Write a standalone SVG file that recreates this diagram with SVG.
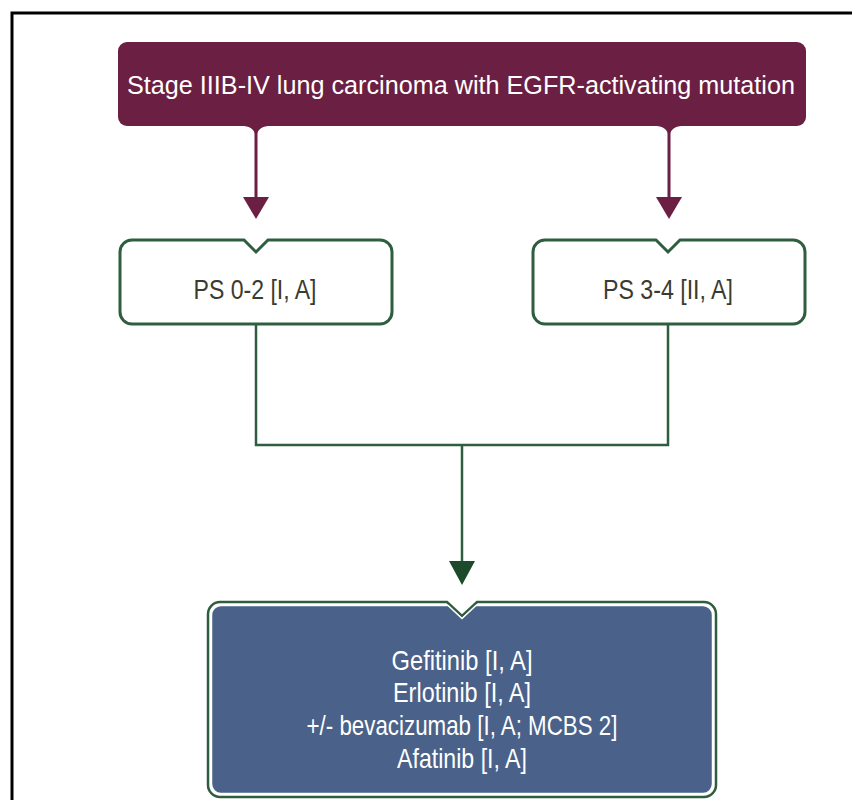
<svg xmlns="http://www.w3.org/2000/svg" width="852" height="800" viewBox="0 0 852 800">
  <style>
    .t { font-family: "Liberation Sans Narrow", "Liberation Sans", Arial, sans-serif; font-size: 28px; text-anchor: middle; }
    .h { font-size: 26px; }
    .w { fill: #ffffff; }
    .d { fill: #3b3b30; }
    .ps { fill: #ffffff; stroke: #2e5e3f; stroke-width: 3; }
    .mline { stroke: #6b1f42; stroke-width: 3; fill: none; }
    .gline { stroke: #2e5e3f; stroke-width: 2.5; fill: none; }
  </style>
  <defs>
    <marker id="am" markerUnits="userSpaceOnUse" markerWidth="22" markerHeight="26" viewBox="0 0 22 26" refX="0" refY="13" orient="auto">
      <path d="M0,0 L22,13 L0,26 Z" fill="#6b1f42"/>
    </marker>
    <marker id="ag" markerUnits="userSpaceOnUse" markerWidth="24" markerHeight="26" viewBox="0 0 24 26" refX="0" refY="13" orient="auto">
      <path d="M0,0 L24,13 L0,26 Z" fill="#1d4a2b"/>
    </marker>
  </defs>
  <rect width="852" height="800" fill="#ffffff"/>
  <g id="frame" fill="none" stroke="#000" stroke-width="3">
    <path d="M12,800 V13 H852"/>
  </g>

  <g id="connectors">
    <path d="M244,126 Q256,127 256,140 Q256,127 268,126 Z" fill="#6b1f42"/>
    <path d="M657,126 Q669,127 669,140 Q669,127 681,126 Z" fill="#6b1f42"/>
    <line class="mline" x1="256" y1="126" x2="256" y2="197" marker-end="url(#am)"/>
    <line class="mline" x1="669" y1="126" x2="669" y2="197" marker-end="url(#am)"/>
    <path class="gline" d="M256,324 V445 H668 V324"/>
    <line class="gline" x1="462" y1="445" x2="462" y2="561" marker-end="url(#ag)"/>
  </g>

  <g id="stage">
    <rect x="118" y="42" width="688" height="84" rx="9" fill="#6b1f42"/>
    <text class="t h w" x="461" y="94" textLength="668" lengthAdjust="spacingAndGlyphs">Stage IIIB-IV lung carcinoma with EGFR-activating mutation</text>
  </g>

  <g id="ps02">
    <path class="ps" d="M132,240 H244 L256,252 L268,240 H380 A12,12 0 0 1 392,252 V312 A12,12 0 0 1 380,324 H132 A12,12 0 0 1 120,312 V252 A12,12 0 0 1 132,240 Z"/>
    <text class="t d" x="255" y="299" textLength="123" lengthAdjust="spacingAndGlyphs">PS 0-2 [I, A]</text>
  </g>

  <g id="ps34">
    <path class="ps" d="M545,240 H656 L668,252 L680,240 H793 A12,12 0 0 1 805,252 V312 A12,12 0 0 1 793,324 H545 A12,12 0 0 1 533,312 V252 A12,12 0 0 1 545,240 Z"/>
    <text class="t d" x="668" y="299" textLength="130" lengthAdjust="spacingAndGlyphs">PS 3-4 [II, A]</text>
  </g>

  <g id="treatment">
    <path d="M220,602 H447 L462,616 L477,602 H704 A12,12 0 0 1 716,614 V785 A12,12 0 0 1 704,797 H220 A12,12 0 0 1 208,785 V614 A12,12 0 0 1 220,602 Z" fill="#ffffff" stroke="#2e5e3f" stroke-width="2.5"/>
    <path d="M221,605.5 H448 L462,618.5 L476,605.5 H703 A9.5,9.5 0 0 1 712.5,615 V784 A9.5,9.5 0 0 1 703,793.5 H221 A9.5,9.5 0 0 1 211.5,784 V615 A9.5,9.5 0 0 1 221,605.5 Z" fill="#4a6189" stroke="#ffffff" stroke-width="1.5"/>
    <text class="t w" x="462" y="670" textLength="141" lengthAdjust="spacingAndGlyphs">Gefitinib [I, A]</text>
    <text class="t w" x="462" y="702" textLength="138" lengthAdjust="spacingAndGlyphs">Erlotinib [I, A]</text>
    <text class="t w" x="462" y="735" textLength="311" lengthAdjust="spacingAndGlyphs">+/- bevacizumab [I, A; MCBS 2]</text>
    <text class="t w" x="462" y="768" textLength="130" lengthAdjust="spacingAndGlyphs">Afatinib [I, A]</text>
  </g>
</svg>
